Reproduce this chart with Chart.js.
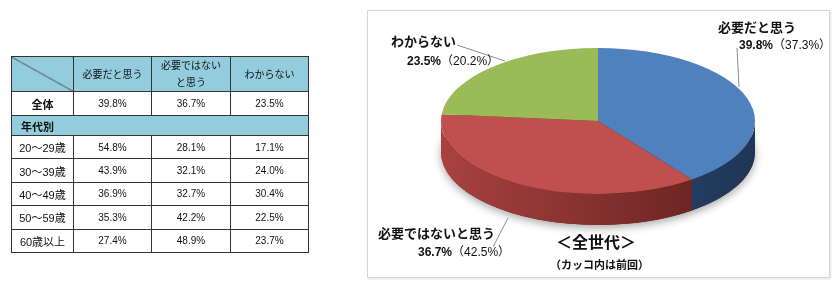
<!DOCTYPE html>
<html>
<head>
<meta charset="utf-8">
<script src="https://cdn.jsdelivr.net/npm/chart.js@4.4.1/dist/chart.umd.min.js"></script>
<style>
  body { margin: 0; width: 840px; height: 289px; background: #fff; position: relative; overflow: hidden;
         font-family: "Liberation Sans", "Noto Sans CJK JP", sans-serif; }
  #wrap { position: absolute; left: 0; top: 0; width: 840px; height: 289px; }
  #box { position: absolute; left: 367px; top: 10px; width: 461px; height: 266px; border: 1px solid #d6d6d6;
         box-shadow: 1px 1px 2px rgba(0,0,0,0.12); }
  table { position: absolute; left: 11px; top: 56px; border-collapse: collapse; table-layout: fixed; color: #111; }
  td { border: 1px solid #333; text-align: center; font-size: 10px; padding: 0; }
  tr.head td { background: #93cddd; height: 33px; font-size: 10px; line-height: 17px; }
  tr.sub td { background: #93cddd; height: 19px; text-align: left; padding-left: 9px; font-size: 11px; font-weight: bold; }
  tr.head td.diag { background: #93cddd linear-gradient(to bottom left, transparent calc(50% - 0.7px), #333 50%, transparent calc(50% + 0.7px)); }
  tr.row td { height: 22.4px; }
  tr.all td { height: 23px; }
  td.lab { font-size: 11px; }
  .lbl { position: absolute; white-space: nowrap; color: #111; }
  .nm { font-size: 13px; font-weight: bold; line-height: 14px; }
  .pc { font-size: 12px; line-height: 13px; }
  .pc b { font-weight: bold; }
</style>
</head>
<body>
<div id="box"></div>
<div id="wrap"><canvas id="pie"></canvas></div>
<table id="tbl"></table>
<div class="lbl nm" style="left:391px; top:35px;">わからない</div>
<div class="lbl pc" id="p2" style="left:407px; top:55px;"></div>
<div class="lbl nm" style="left:718px; top:21px;">必要だと思う</div>
<div class="lbl pc" id="p0" style="left:739px; top:39px;"></div>
<div class="lbl nm" style="left:378px; top:227px;">必要ではないと思う</div>
<div class="lbl pc" id="p1" style="left:418px; top:246px;"></div>
<div class="lbl" style="left:556px; top:234px; font-size:16px; line-height:18px; font-weight:bold;">＜全世代＞</div>
<div class="lbl" style="left:550px; top:259px; font-size:11px; line-height:12px; font-weight:bold;">（カッコ内は前回）</div>
<script>
// pie (全世代) values
const categories = ['必要だと思う', '必要ではないと思う', 'わからない'];
const currentValues = [39.8, 36.7, 23.5];
const previousValues = [37.3, 42.5, 20.2];
const colors = ['#4f81bd', '#c0504d', '#9bbb59'];

// table
const tableHeaders = ['必要だと思う', '必要ではない<br>と思う', 'わからない'];
const ageGroups = ['20～29歳', '30～39歳', '40～49歳', '50～59歳', '60歳以上'];
const needYes = [54.8, 43.9, 36.9, 35.3, 27.4];
const needNo = [28.1, 32.1, 32.7, 42.2, 48.9];
const unknown = [17.1, 24.0, 30.4, 22.5, 23.7];

const fmt = v => v.toFixed(1) + '%';

// build table
let html = '<colgroup><col style="width:62px"><col style="width:78px"><col style="width:79px"><col style="width:78px"></colgroup>';
html += '<tr class="head"><td class="diag"></td>' + tableHeaders.map(h => '<td>' + h + '</td>').join('') + '</tr>';
html += '<tr class="all"><td class="lab" style="font-weight:bold">全体</td>' + currentValues.map(v => '<td>' + fmt(v) + '</td>').join('') + '</tr>';
html += '<tr class="sub"><td colspan="4">年代別</td></tr>';
ageGroups.forEach((g, i) => {
  html += '<tr class="row"><td class="lab">' + g + '</td><td>' + fmt(needYes[i]) + '</td><td>' + fmt(needNo[i]) + '</td><td>' + fmt(unknown[i]) + '</td></tr>';
});
document.getElementById('tbl').innerHTML = html;

currentValues.forEach((v, i) => {
  document.getElementById('p' + i).innerHTML = '<b>' + fmt(v) + '</b>（' + fmt(previousValues[i]) + '）';
});

const CX = 598, CY = 121, R = 157, K = 73 / 157, DEPTH = 31;
const sideColors = [['#35598a', '#1e3656'], ['#a8423f', '#5e1f1d'], ['#7d9a45', '#5a7230']];

const pie3d = {
  id: 'pie3d',
  beforeDatasetsDraw(chart) {
    const ctx = chart.ctx;
    const arcs = chart.getDatasetMeta(0).data;
    const cx = arcs[0].x, cy = arcs[0].y, r = arcs[0].outerRadius, ry = r * K;
    // shadow under pie
    ctx.save();
    ctx.shadowColor = 'rgba(0,0,0,0.35)';
    ctx.shadowBlur = 8;
    ctx.shadowOffsetY = 3;
    ctx.fillStyle = '#5e1f1d';
    ctx.beginPath();
    ctx.ellipse(cx, cy + DEPTH, r, ry, 0, 0, Math.PI * 2);
    ctx.fill();
    ctx.restore();
    // side walls of the front half
    arcs.forEach((a, i) => {
      const s = Math.max(a.startAngle, 0), e = Math.min(a.endAngle, Math.PI);
      if (e <= s) return;
      const g = ctx.createLinearGradient(cx - r, 0, cx + r, 0);
      g.addColorStop(0, sideColors[i][0]);
      g.addColorStop(1, sideColors[i][1]);
      ctx.save();
      ctx.fillStyle = g;
      ctx.beginPath();
      ctx.ellipse(cx, cy, r, ry, 0, s, e);
      ctx.ellipse(cx, cy + DEPTH, r, ry, 0, e, s, true);
      ctx.closePath();
      ctx.fill();
      ctx.restore();
    });
    ctx.save();
    ctx.translate(cx, cy);
    ctx.scale(1, K);
    ctx.translate(-cx, -cy);
  },
  afterDatasetsDraw(chart) {
    const ctx = chart.ctx;
    ctx.restore();
    // leader lines
    ctx.save();
    ctx.strokeStyle = '#8c8c8c';
    ctx.lineWidth = 1;
    [[[457, 45], [505, 61]], [[737, 48], [739, 87]], [[493, 247], [508, 218]]].forEach(l => {
      ctx.beginPath();
      ctx.moveTo(l[0][0], l[0][1]);
      ctx.lineTo(l[1][0], l[1][1]);
      ctx.stroke();
    });
    ctx.restore();
  }
};

new Chart(document.getElementById('pie'), {
  type: 'pie',
  data: {
    labels: categories,
    datasets: [{
      data: currentValues,
      backgroundColor: colors,
      borderWidth: 0,
      radius: R
    }]
  },
  options: {
    responsive: true,
    maintainAspectRatio: false,
    animation: false,
    events: [],
    layout: { padding: { left: CX - 200, right: 840 - CX - 200, top: CY - 100, bottom: 289 - CY - 100 } },
    plugins: { legend: { display: false }, tooltip: { enabled: false } }
  },
  plugins: [pie3d]
});
</script>
</body>
</html>
